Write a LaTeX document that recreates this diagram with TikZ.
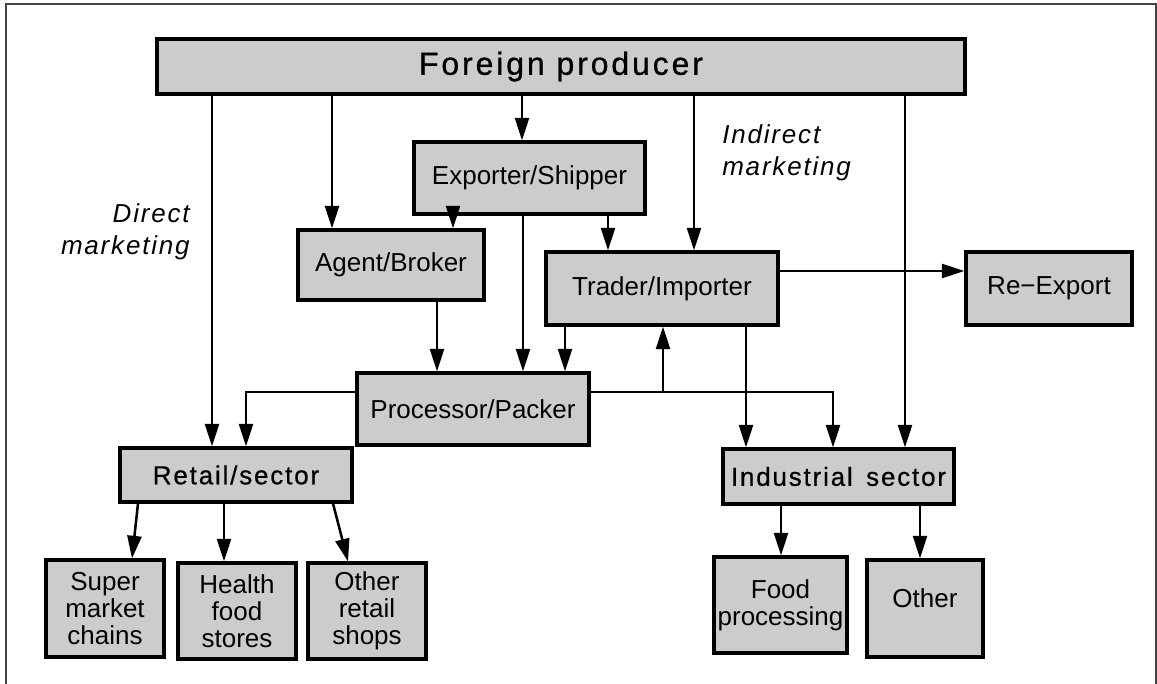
\documentclass[tikz,border=0pt]{standalone}
\usepackage{fontspec}
\setmainfont{Liberation Sans}
\newfontfamily\spacedfont[LetterSpace=7]{Liberation Sans}
\newfontfamily\semifont[LetterSpace=7,FakeBold=0.6]{Liberation Sans}
\newfontfamily\widefont[LetterSpace=9,FakeBold=0.8]{Liberation Sans}
\usetikzlibrary{arrows.meta}
\definecolor{boxgray}{HTML}{CCCCCC}
\definecolor{framegray}{HTML}{444444}
\newcommand\bx[7]{\node[#1, minimum width={(#5-#3)*0.75pt}, minimum height={(#6-#4)*0.75pt}] (#2) at ({(#3+#5)/2},{(#4+#6)/2}) {#7};}
\begin{document}
\begin{tikzpicture}[x=0.75pt,y=-0.75pt,
  box/.style={draw=black, line width=2.3pt, fill=boxgray, inner sep=0pt, align=center,
              font=\fontsize{19.5}{20.25}\selectfont},
  spbox/.style={box, font=\semifont\fontsize{19.5}{21}\selectfont},
  bigbox/.style={box, font=\widefont\fontsize{24}{26}\selectfont},
  lab/.style={inner sep=0pt, font=\spacedfont\itshape\fontsize{19.5}{24}\selectfont},
  arr/.style={line width=1.9pt, -{Triangle[length=17pt,width=10.5pt]}},
]
\useasboundingbox (0,0) rectangle (1157,684);
% frame
\draw[framegray, line width=1.1pt] (6,684) -- (6,4) -- (1156,4) -- (1156,684);

% boxes
\bx{bigbox}{fp}{157}{39}{965}{94}{Foreign producer}
\bx{box}{ex}{414}{142}{645}{214}{Exporter/Shipper}
\bx{box}{ag}{298}{230}{484}{300}{Agent/Broker}
\bx{box}{tr}{546}{252}{778}{325}{Trader/Importer}
\bx{box}{re}{966}{252}{1132}{325}{Re−Export}
\bx{box}{pp}{357}{373}{589}{445}{Processor/Packer}
\bx{spbox}{rs}{120}{448}{352}{502}{Retail/sector}
\bx{spbox}{is}{723}{449}{954}{504}{Industrial\, sector}
\bx{box}{sm}{46}{560}{164}{657}{Super\\market\\chains}
\bx{box}{hf}{178}{563}{296}{659}{Health\\food\\stores}
\bx{box}{ors}{308}{563}{426}{659}{Other\\retail\\shops}
\bx{box}{fo}{714}{557}{847}{653}{Food\\processing}
\bx{box}{ot}{867}{560}{983}{657}{}
\node[inner sep=0pt, font=\fontsize{19.5}{20.25}\selectfont] (ottext) at (925,598) {Other};

% labels
\node[lab, anchor=east, align=right] (dm) at (190,232) {Direct\\marketing};
\node[lab, anchor=west, align=left] (im) at (722,153) {Indirect\\marketing};

% x positions of connectors
\coordinate (cA) at (212,0);
\coordinate (cB) at (332,0);
\coordinate (cC) at (522,0);
\coordinate (cD) at (694,0);
\coordinate (cE) at (905,0);
\coordinate (cF) at (453,0);
\coordinate (cG) at (523,0);
\coordinate (cH) at (608,0);
\coordinate (cI) at (437,0);
\coordinate (cJ) at (565,0);
\coordinate (cK) at (663,0);
\coordinate (cL) at (746,0);
\coordinate (cM) at (833,0);
\coordinate (cN) at (246,0);
\coordinate (cO) at (781,0);
\coordinate (cP) at (920,0);
\coordinate (cQ) at (224,0);
\coordinate (cS1) at (138,0);
\coordinate (cS2) at (132,0);
\coordinate (cR1) at (333,0);
\coordinate (cR2) at (348,0);
\coordinate (yR) at (0,271);
\coordinate (yP) at (0,392);

% from foreign producer
\draw[arr] (fp.south -| cA) -- (rs.north -| cA);
\draw[arr] (fp.south -| cB) -- (ag.north -| cB);
\draw[arr] (fp.south -| cC) -- (ex.north -| cC);
\draw[arr] (fp.south -| cD) -- (tr.north -| cD);
\draw[arr] (fp.south -| cE) -- (is.north -| cE);
% exporter
\draw[arr] (ex.south -| cF) -- (ag.north -| cF);
\draw[arr] (ex.south -| cG) -- (pp.north -| cG);
\draw[arr] (ex.south -| cH) -- (tr.north -| cH);
% agent, trader
\draw[arr] (ag.south -| cI) -- (pp.north -| cI);
\draw[arr] (tr.south -| cJ) -- (pp.north -| cJ);
\draw[arr] (tr.south -| cL) -- (is.north -| cL);
\draw[arr] (tr.east |- yR) -- (re.west |- yR);
% processor
\draw[arr] (pp.west |- yP) -- (yP -| cN) -- (rs.north -| cN);
\draw[arr] (pp.east |- yP) -- (yP -| cM) -- (is.north -| cM);
\draw[arr] (yP -| cK) -- (tr.south -| cK);
% retail
\draw[arr] (rs.south -| cS1) -- (sm.north -| cS2);
\draw[arr] (rs.south -| cQ) -- (hf.north -| cQ);
\draw[arr] (rs.south -| cR1) -- (ors.north -| cR2);
% industrial
\draw[arr] (is.south -| cO) -- (fo.north -| cO);
\draw[arr] (is.south -| cP) -- (ot.north -| cP);
\end{tikzpicture}
\end{document}
